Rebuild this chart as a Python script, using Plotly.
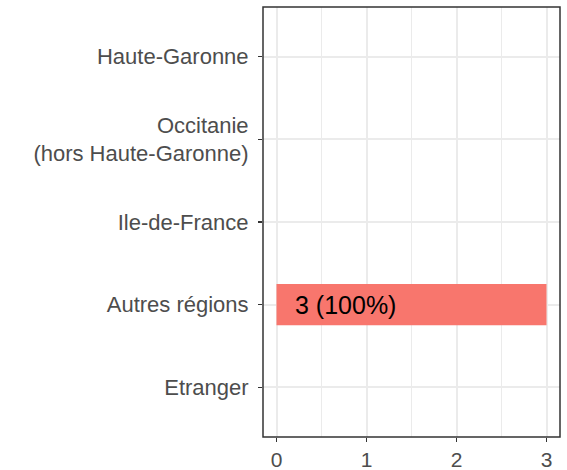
import plotly.graph_objects as go

categories = ["Haute-Garonne", "Occitanie<br>(hors Haute-Garonne)", "Ile-de-France", "Autres régions", "Etranger"]
counts = [0, 0, 0, 3, 0]
labels = ["", "", "", "3 (100%)", ""]
x_ticks = [0, 1, 2, 3]

FONT = "'Liberation Sans', Arial, sans-serif"

fig = go.Figure()
fig.add_trace(go.Bar(
    y=categories, x=counts, orientation="h", width=0.5,
    marker=dict(color="#F8766D", line=dict(width=0)),
    hoverinfo="skip", showlegend=False,
))

label_offset = 0.18
for c, v, lab in zip(categories, counts, labels):
    if lab:
        fig.add_annotation(x=label_offset, y=c, text=lab, xanchor="left", yanchor="middle",
                           showarrow=False, font=dict(family=FONT, size=25, color="black"))

fig.update_layout(
    template="none",
    width=567, height=470,
    margin=dict(l=263, r=7, t=7, b=33, autoexpand=False),
    paper_bgcolor="white", plot_bgcolor="white",
    font=dict(family=FONT, size=22, color="#4D4D4D"),
    bargap=0.5,
)
# panel border (theme_bw)
fig.add_shape(type="rect", xref="paper", yref="paper", x0=0, x1=1, y0=0, y1=1,
              line=dict(color="#333333", width=1.5), fillcolor="rgba(0,0,0,0)", layer="above")
common = dict(
    showgrid=True, gridcolor="#EBEBEB", gridwidth=2,
    ticks="outside", ticklen=4, tickwidth=1.4, tickcolor="#333333",
    showline=False, zeroline=False,
    automargin=False,
)
fig.update_xaxes(
    range=[-0.15, 3.15], tickvals=x_ticks, ticktext=[str(t) for t in x_ticks],
    minor=dict(dtick=0.5, tick0=0, showgrid=True, gridcolor="#EBEBEB", gridwidth=1, ticks=""),
    tickfont=dict(family=FONT, size=21, color="#4D4D4D"),
    **common,
)
fig.update_yaxes(
    categoryorder="array", categoryarray=categories, range=[4.6, -0.6],
    ticklabelstandoff=5,
    tickfont=dict(family=FONT, size=22, color="#4D4D4D"),
    **common,
)
fig.write_html("out.html", config={"displayModeBar": False, "staticPlot": True},
               post_script="document.body.style.margin='0';document.body.style.overflow='hidden';")
